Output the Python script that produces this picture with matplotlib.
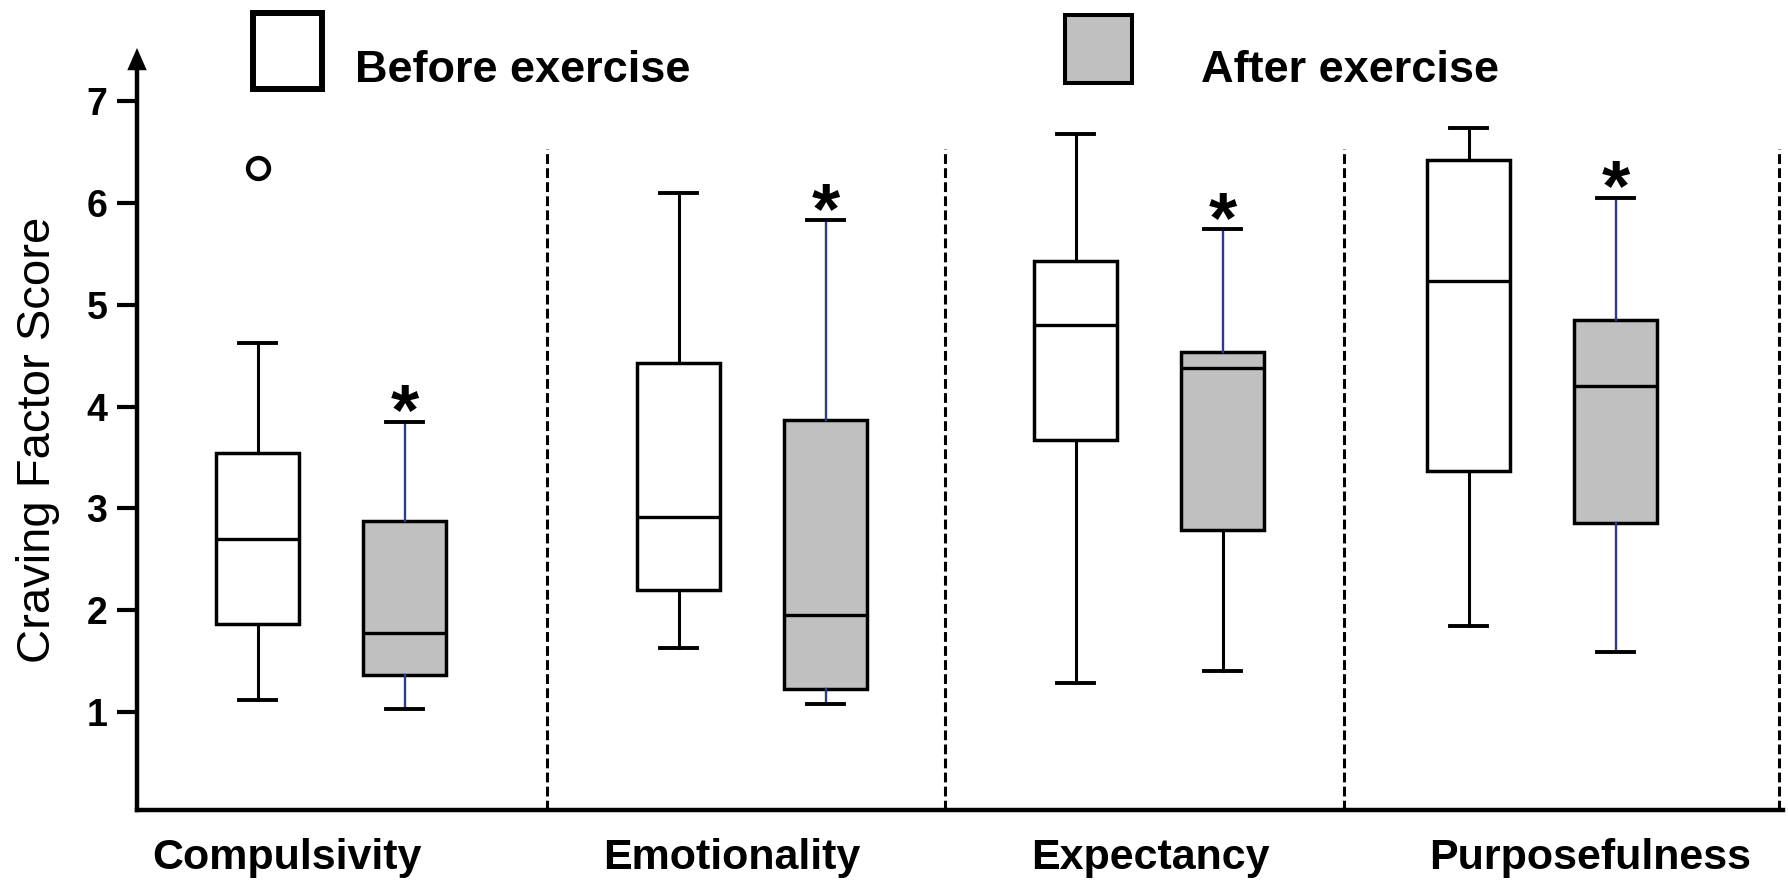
import matplotlib
matplotlib.use("Agg")
import matplotlib.pyplot as plt
from matplotlib.patches import Rectangle

plt.rcParams["font.family"] = ["Liberation Sans", "DejaVu Sans"]

# ---- data -------------------------------------------------------------
categories = ["Compulsivity", "Emotionality", "Expectancy", "Purposefulness"]
legend_labels = ["Before exercise", "After exercise"]

# five-number summaries: lower whisker, Q1, median, Q3, upper whisker
before_low = [1.12, 1.63, 1.29, 1.85]
before_q1 = [1.87, 2.20, 3.67, 3.37]
before_med = [2.70, 2.92, 4.80, 5.23]
before_q3 = [3.54, 4.43, 5.43, 6.42]
before_high = [4.62, 6.10, 6.68, 6.73]
before_outliers = [[6.34], [], [], []]

after_low = [1.03, 1.08, 1.40, 1.59]
after_q1 = [1.37, 1.23, 2.79, 2.86]
after_med = [1.78, 1.95, 4.38, 4.20]
after_q3 = [2.88, 3.87, 4.54, 4.85]
after_high = [3.85, 5.83, 5.74, 6.05]
after_outliers = [[], [], [], []]

significant = [True, True, True, True]
yticks = [1, 2, 3, 4, 5, 6, 7]

# ---- layout -----------------------------------------------------------
W, H = 1788, 881
group_centers = [3.31, 7.52, 11.49, 15.42]
pair_offset = 0.735
dividers = [5.465, 9.45, 13.44, 17.79]
label_x = [2.87, 7.32, 11.50, 15.90]
box_width = 0.83
cap_width = 0.37

BLUE = "#2e3a8f"
GREY = "#c0c0c0"

fig = plt.figure(figsize=(W / 100, H / 100), dpi=100)
ax = fig.add_axes([137 / W, 71 / H, 1646 / W, 762 / H])
ax.set_xlim(1.37, 17.83)
ax.set_ylim(0.04, 7.52)


def summaries(low, q1, med, q3, high, outliers):
    return [
        dict(whislo=a, q1=b, med=c, q3=d, whishi=e, fliers=f)
        for a, b, c, d, e, f in zip(low, q1, med, q3, high, outliers)
    ]


before_pos = [c - pair_offset for c in group_centers]
after_pos = [c + pair_offset for c in group_centers]

common = dict(
    widths=box_width,
    capwidths=cap_width,
    patch_artist=True,
    showfliers=True,
    medianprops=dict(color="black", linewidth=2.4),
    capprops=dict(color="black", linewidth=2.8),
    flierprops=dict(marker="o", markersize=15, markerfacecolor="white",
                    markeredgecolor="black", markeredgewidth=3.2),
)

ax.bxp(summaries(before_low, before_q1, before_med, before_q3, before_high,
                 before_outliers),
       positions=before_pos,
       boxprops=dict(facecolor="white", edgecolor="black", linewidth=2.5),
       whiskerprops=dict(color="black", linewidth=2.2),
       **common)

after_art = ax.bxp(summaries(after_low, after_q1, after_med, after_q3,
                             after_high, after_outliers),
                   positions=after_pos,
                   boxprops=dict(facecolor=GREY, edgecolor="black", linewidth=2.5),
                   whiskerprops=dict(color=BLUE, linewidth=1.7),
                   **common)
# the lower whisker of the Expectancy box is plain black
after_art["whiskers"][4].set_color("black")
after_art["whiskers"][4].set_linewidth(2.2)

# significance stars above the post-exercise whiskers
for x, top, sig in zip(after_pos, after_high, significant):
    if sig:
        ax.annotate("*", xy=(x, top), xytext=(0, -9), textcoords="offset points",
                    ha="center", va="baseline", fontsize=52, fontweight="bold",
                    annotation_clip=False)

# dashed separators between factors
ax.vlines(dividers, 0.04, 6.53, colors="black", linewidth=2.2,
          linestyles=(0, (3.2, 1.4)), clip_on=False)

# axes styling
for side in ("top", "right"):
    ax.spines[side].set_visible(False)
ax.spines["left"].set_linewidth(3.2)
ax.spines["bottom"].set_linewidth(3.2)
ax.spines["left"].set_bounds(0.04, 7.33)
ax.set_xticks([])
ax.set_yticks(yticks)
ax.tick_params(axis="y", direction="out", length=14.4, width=3, pad=7,
               labelsize=27)
for lbl in ax.get_yticklabels():
    lbl.set_fontweight("bold")

ax.annotate("", xy=(1.37, 7.52), xytext=(1.37, 7.0),
            arrowprops=dict(arrowstyle="-|>,head_length=0.8,head_width=0.35",
                            color="black", lw=0, shrinkA=0, shrinkB=0,
                            mutation_scale=20),
            annotation_clip=False)

for x, name in zip(label_x, categories):
    ax.text(x, -0.538, name, ha="center", va="baseline", fontsize=31,
            fontweight="bold", clip_on=False)

fig.text(50 / W, 1 - 440 / H, "Craving Factor Score", rotation=90,
         rotation_mode="anchor", ha="center", va="baseline", fontsize=34)


# legend drawn as two swatches with captions
def fpx(x, y):
    return x / W, 1 - y / H


fig.add_artist(Rectangle(fpx(253, 89), 69 / W, 76 / H, transform=fig.transFigure,
                         facecolor="white", edgecolor="black", linewidth=4.3))
fig.add_artist(Rectangle(fpx(1065, 83), 67 / W, 68 / H, transform=fig.transFigure,
                         facecolor=GREY, edgecolor="black", linewidth=2.9))
fig.text(*fpx(355, 82), legend_labels[0], ha="left", va="baseline",
         fontsize=32.5, fontweight="bold")
fig.text(*fpx(1201, 82), legend_labels[1], ha="left", va="baseline",
         fontsize=32.5, fontweight="bold")

fig.savefig("out.png", dpi=100, facecolor="white")
